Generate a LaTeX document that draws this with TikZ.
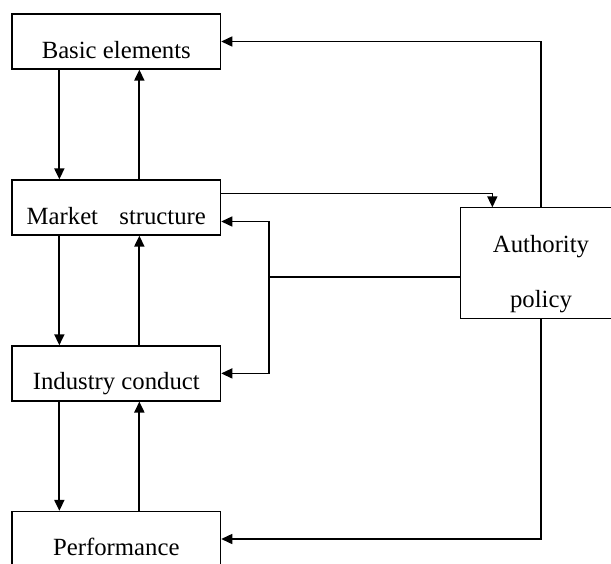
\documentclass[tikz,border=0pt]{standalone}
\usepackage{fontspec}
\setmainfont{Liberation Serif}
\usetikzlibrary{arrows.meta}

\begin{document}
\begin{tikzpicture}[x=0.5pt,y=-0.5pt,line width=0.95pt,
    -{Triangle[length=5.5pt,width=5pt]},
    every node/.style = {shape=rectangle, draw, line width=0.65pt,
        font=\fontsize{12.37}{14.8}\selectfont,
        minimum width=104.3pt, minimum height=27.5pt,
        text height=16.5pt, text depth=0pt}]
    \useasboundingbox (0,0) rectangle (611,563);
    \clip (0,0) rectangle (611,563);

    \node (basic)   at (116.3,  41.5) {Basic elements};
    \node (market)  at (116.3, 207.5) {Market\hspace{0.86em}structure};
    \node (conduct) at (116.3, 373.4) {Industry conduct};
    \node (perf)    at (116.3, 539.0) {Performance};
    % policy box runs past the right edge of the page
    \node[draw=none, minimum width=80pt, minimum height=55pt] (auth) at (541, 263) {};
    \draw[line width=0.8pt,-] (auth.north east) -- (auth.north west)
        -- (auth.south west) -- (auth.south east);
    \node[draw=none, align=center, text height=, text depth=,
        font=\fontsize{12.37}{27.5}\selectfont] (authtext) at (541, 274.5)
        {Authority\\policy};

    % left column
    \draw ([xshift=24pt]basic.south west) -- ([xshift=24pt]market.north west);
    \draw ([xshift=64pt]market.north west) -- ([xshift=64pt]basic.south west);
    \draw ([xshift=24pt]market.south west) -- ([xshift=24pt]conduct.north west);
    \draw ([xshift=64pt]conduct.north west) -- ([xshift=64pt]market.south west);
    \draw ([xshift=24pt]conduct.south west) -- ([xshift=24pt]perf.north west);
    \draw ([xshift=64pt]perf.north west) -- ([xshift=64pt]conduct.south west);

    % policy links
    \coordinate (split) at (269, 277);
    \draw[line width=0.7pt] ([yshift=-7pt]market.north east) -| ([xshift=16pt]auth.north west);
    \draw[line width=0.7pt] (auth.north) |- (basic.east);
    \draw[line width=0.7pt,-] ([yshift=-7pt]auth.west) -- (split);
    \draw[line width=0.7pt] (split) |- ([yshift=-7pt]market.east);
    \draw[line width=0.7pt] (split) |- (conduct.east);
    \draw[line width=0.7pt] (auth.south) |- (perf.east);
\end{tikzpicture}
\end{document}
